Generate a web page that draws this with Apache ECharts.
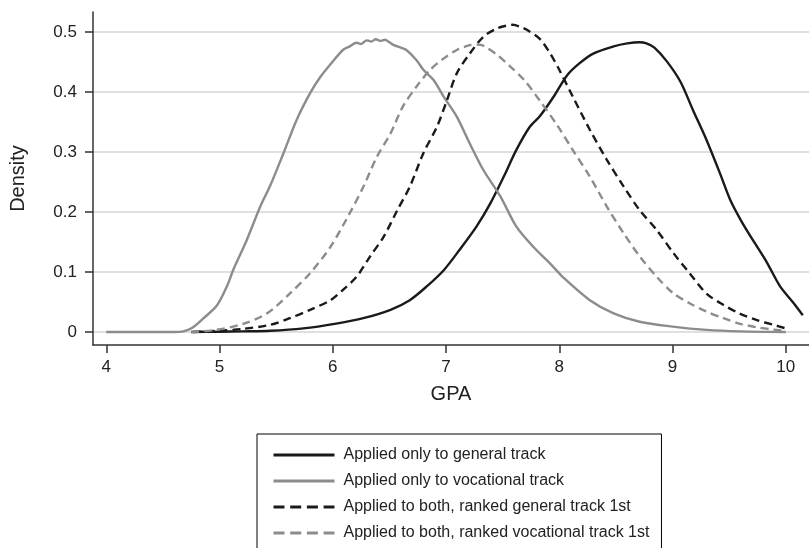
<!DOCTYPE html>
<html><head><meta charset="utf-8">
<script src="https://cdn.jsdelivr.net/npm/echarts@6/dist/echarts.min.js"></script>
<style>html,body{margin:0;padding:0;background:#fff}#c{width:809px;height:548px}</style>
</head><body><div id="c"></div>
<script>
// Series names
const seriesNames = [
  'Applied only to general track',
  'Applied only to vocational track',
  'Applied to both, ranked general track 1st',
  'Applied to both, ranked vocational track 1st'
];
// Tick values
const xTicks = [4, 5, 6, 7, 8, 9, 10];
const yTicks = [0, 0.1, 0.2, 0.3, 0.4, 0.5];

// Applied only to general track
const genX = [4.75, 5.0, 5.2, 5.45, 5.74, 6.03, 6.27, 6.51, 6.68, 6.83, 6.98, 7.12, 7.27, 7.39, 7.51, 7.62, 7.74, 7.83, 7.95, 8.07, 8.18, 8.30, 8.48, 8.60, 8.71, 8.77, 8.84, 8.95, 9.07, 9.18, 9.30, 9.42, 9.51, 9.61, 9.71, 9.83, 9.95, 10.07, 10.15];
const genY = [0, 0.0005, 0.001, 0.002, 0.006, 0.014, 0.023, 0.037, 0.053, 0.076, 0.103, 0.137, 0.176, 0.214, 0.259, 0.303, 0.342, 0.360, 0.392, 0.428, 0.448, 0.464, 0.476, 0.481, 0.483, 0.481, 0.474, 0.451, 0.417, 0.370, 0.320, 0.264, 0.220, 0.184, 0.153, 0.117, 0.076, 0.048, 0.028];

// Applied only to vocational track
const vocX = [4.0, 4.3, 4.6, 4.68, 4.76, 4.86, 4.98, 5.07, 5.12, 5.24, 5.36, 5.45, 5.565, 5.68, 5.80, 5.89, 6.01, 6.09, 6.15, 6.21, 6.25, 6.30, 6.34, 6.38, 6.42, 6.46, 6.50, 6.54, 6.60, 6.65, 6.74, 6.80, 6.89, 6.98, 7.095, 7.21, 7.33, 7.48, 7.62, 7.77, 7.92, 8.04, 8.27, 8.48, 8.71, 9.0, 9.3, 9.6, 10.0];
const vocY = [0, 0, 0, 0.001, 0.007, 0.023, 0.045, 0.078, 0.103, 0.153, 0.209, 0.245, 0.298, 0.353, 0.398, 0.425, 0.453, 0.470, 0.476, 0.482, 0.480, 0.486, 0.484, 0.488, 0.485, 0.487, 0.483, 0.478, 0.474, 0.470, 0.453, 0.437, 0.420, 0.392, 0.359, 0.314, 0.270, 0.226, 0.176, 0.142, 0.114, 0.090, 0.053, 0.031, 0.017, 0.009, 0.0035, 0.001, 0];

// Applied to both, ranked general track 1st
const bothGenX = [4.77, 5.0, 5.2, 5.45, 5.62, 5.80, 5.98, 6.09, 6.21, 6.33, 6.45, 6.57, 6.68, 6.80, 6.92, 7.01, 7.095, 7.21, 7.33, 7.45, 7.52, 7.59, 7.65, 7.71, 7.83, 7.92, 8.0, 8.12, 8.27, 8.42, 8.57, 8.71, 8.86, 9.01, 9.15, 9.30, 9.45, 9.59, 9.74, 9.89, 10.0];
const bothGenY = [0, 0.002, 0.005, 0.012, 0.023, 0.037, 0.053, 0.070, 0.092, 0.126, 0.159, 0.203, 0.242, 0.298, 0.342, 0.387, 0.431, 0.464, 0.492, 0.506, 0.510, 0.512, 0.509, 0.504, 0.488, 0.464, 0.437, 0.392, 0.337, 0.287, 0.242, 0.203, 0.170, 0.131, 0.098, 0.064, 0.045, 0.031, 0.020, 0.012, 0.006];

// Applied to both, ranked vocational track 1st
const bothVocX = [4.75, 4.95, 5.2, 5.42, 5.62, 5.80, 5.98, 6.15, 6.27, 6.39, 6.51, 6.62, 6.74, 6.86, 6.98, 7.095, 7.21, 7.28, 7.33, 7.45, 7.57, 7.69, 7.83, 7.98, 8.12, 8.27, 8.42, 8.57, 8.71, 8.86, 9.01, 9.15, 9.30, 9.45, 9.59, 9.74, 9.89, 10.0];
const bothVocY = [0, 0.003, 0.013, 0.031, 0.064, 0.098, 0.142, 0.198, 0.242, 0.292, 0.331, 0.376, 0.409, 0.437, 0.456, 0.470, 0.478, 0.479, 0.477, 0.462, 0.442, 0.420, 0.385, 0.345, 0.303, 0.259, 0.209, 0.164, 0.126, 0.092, 0.064, 0.048, 0.034, 0.023, 0.014, 0.008, 0.004, 0.002];

const zip = (xs, ys) => xs.map((x, i) => [x, ys[i]]);
const FONT = '"Liberation Sans", Arial, Helvetica, sans-serif';
const BLACK = '#1a1a1a', GRAY = '#8c8c8c';

const mk = (name, xs, ys, color, dashed) => ({
  name, type: 'line', data: zip(xs, ys), symbol: 'none', smooth: 0.3,
  lineStyle: { color, width: 2.4, type: dashed ? [8, 5] : 'solid' },
  itemStyle: { color, opacity: 0 },
  emphasis: { disabled: true }, animation: false
});

const chart = echarts.init(document.getElementById('c'), null, { renderer: 'canvas' });
chart.setOption({
  backgroundColor: '#fff',
  animation: false,
  grid: { left: 92.7, top: 12, right: 0, bottom: 203, containLabel: false },
  xAxis: {
    type: 'value', min: 3.883, max: 10.205,
    name: 'GPA', nameLocation: 'middle', nameGap: 39,
    nameTextStyle: { fontFamily: FONT, fontSize: 20, color: '#222' },
    axisLine: { onZero: false, lineStyle: { color: '#333', width: 1.5 } },
    axisTick: { show: true, inside: false, length: 8, customValues: xTicks, lineStyle: { color: '#333', width: 1.5 } },
    axisLabel: { customValues: xTicks, fontFamily: FONT, fontSize: 17, color: '#222', margin: 14 },
    splitLine: { show: false }
  },
  yAxis: {
    type: 'value', min: -0.0217, max: 0.5333,
    name: 'Density', nameLocation: 'middle', nameGap: 65, nameRotate: 90,
    nameTextStyle: { fontFamily: FONT, fontSize: 20, color: '#222' },
    axisLine: { show: true, onZero: false, lineStyle: { color: '#333', width: 1.5 } },
    axisTick: { show: true, inside: false, length: 8, customValues: yTicks, lineStyle: { color: '#333', width: 1.5 } },
    axisLabel: { customValues: yTicks, fontFamily: FONT, fontSize: 17, color: '#222', margin: 16,
      formatter: v => (v === 0 ? '0' : String(v)) },
    splitLine: { show: true, lineStyle: { color: '#d6d6d6', width: 1.5 } }
  },
  legend: {
    orient: 'vertical', left: 257, top: 434, height: 120,
    padding: [13, 12, 24, 15],
    itemWidth: 61, itemHeight: 14, itemGap: 10,
    borderColor: '#000', borderWidth: 1,
    itemStyle: { opacity: 0 },
    lineStyle: { width: 3 },
    textStyle: { fontFamily: FONT, fontSize: 16, color: '#222', padding: [0, 0, 0, 4] },
    data: [
      { name: seriesNames[0] },
      { name: seriesNames[1] },
      { name: seriesNames[2], lineStyle: { type: [11, 5.7] } },
      { name: seriesNames[3], lineStyle: { type: [11, 5.7] } }
    ]
  },
  series: [
    mk(seriesNames[0], genX, genY, BLACK, false),
    mk(seriesNames[1], vocX, vocY, GRAY, false),
    mk(seriesNames[2], bothGenX, bothGenY, BLACK, true),
    mk(seriesNames[3], bothVocX, bothVocY, GRAY, true)
  ]
});
</script></body></html>
